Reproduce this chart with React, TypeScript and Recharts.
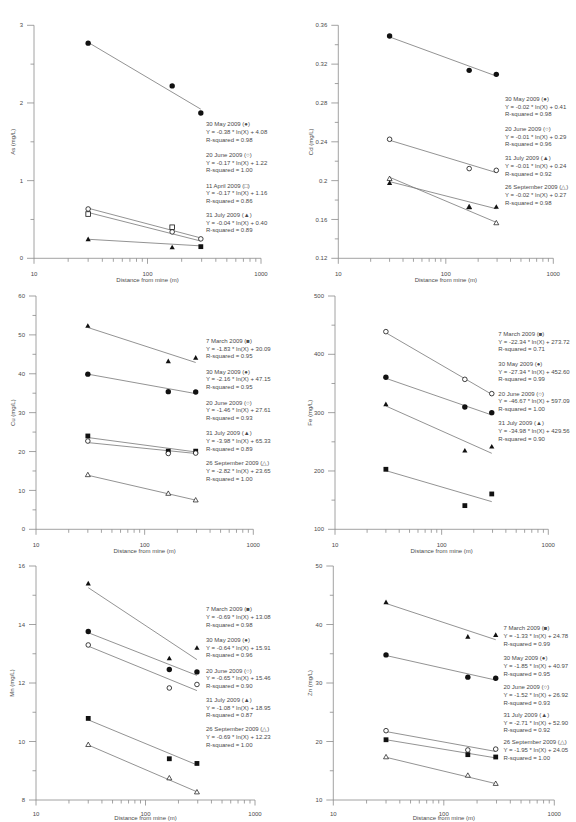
import React from 'react';
import { ComposedChart, Scatter, XAxis, YAxis } from 'recharts';

// ---- shared x values (distance from mine, m) ----
const DISTANCES = [30, 165, 295];
const FIT_RANGE = [30, 295];
const X_TICKS = [10, 20, 30, 40, 50, 60, 70, 80, 90, 100, 200, 300, 400, 500, 600, 700, 800, 900, 1000];
const X_LABELED = [10, 100, 1000];

// ---- As (mg/L) ----
const AS_MAY = [2.77, 2.22, 1.87];
const AS_MAY_FIT = [2.78, 1.92];
const AS_JUNE = [0.635, 0.34, 0.25];
const AS_JUNE_FIT = [0.645, 0.262];
const AS_APRIL = [0.57, 0.4, null];
const AS_APRIL_FIT = [0.59, 0.222];
const AS_JULY = [0.245, 0.14, null];
const AS_JULY_END = [null, null, 0.15];
const AS_JULY_FIT = [0.245, 0.16];
const AS_TICKS = [0, 0.5, 1, 1.5, 2, 2.5, 3];

// ---- Cd (mg/L) ----
const CD_MAY = [0.349, 0.3136, 0.3095];
const CD_MAY_FIT = [0.348, 0.3077];
const CD_JUNE = [0.2426, 0.2124, 0.2106];
const CD_JUNE_FIT = [0.2416, 0.2083];
const CD_SEPT = [0.202, 0.1728, 0.1564];
const CD_SEPT_FIT = [0.2035, 0.157];
const CD_JULY = [0.1975, 0.1728, 0.173];
const CD_JULY_FIT = [0.199, 0.171];
const CD_TICKS = [0.12, 0.14, 0.16, 0.18, 0.2, 0.22, 0.24, 0.26, 0.28, 0.3, 0.32, 0.34, 0.36];

// ---- Cu (mg/L) ----
const CU_JULY = [52.3, 43.2, 44.1];
const CU_JULY_FIT = [51.9, 42.9];
const CU_MAY = [39.9, 35.4, 35.3];
const CU_MAY_FIT = [39.9, 34.9];
const CU_MARCH = [24.0, 20.1, 20.1];
const CU_MARCH_FIT = [23.6, 19.9];
const CU_JUNE = [22.7, 19.5, 19.6];
const CU_JUNE_FIT = [22.3, 19.5];
const CU_SEPT = [14.0, 9.2, 7.5];
const CU_SEPT_FIT = [13.9, 7.5];
const CU_TICKS = [0, 5, 10, 15, 20, 25, 30, 35, 40, 45, 50, 55, 60];

// ---- Fe (mg/L) ----
const FE_JUNE = [438.9, 357.1, 332.6];
const FE_JUNE_FIT = [437, 331.4];
const FE_MAY = [360.6, 309.7, 300];
const FE_MAY_FIT = [358.9, 296];
const FE_JULY = [314.3, 234.9, 241.7];
const FE_JULY_FIT = [311.4, 230.3];
const FE_MARCH = [202.9, 140.6, 160.6];
const FE_MARCH_FIT = [200.6, 147.4];
const FE_TICKS = [100, 150, 200, 250, 300, 350, 400, 450, 500];

// ---- Mn (mg/L) ----
const MN_JULY = [15.4, 12.84, 13.2];
const MN_JULY_FIT = [15.26, 12.8];
const MN_MAY = [13.76, 12.46, 12.38];
const MN_MAY_FIT = [13.72, 12.26];
const MN_JUNE = [13.3, 11.83, 11.95];
const MN_JUNE_FIT = [13.26, 11.74];
const MN_MARCH = [10.79, 9.41, 9.25];
const MN_MARCH_FIT = [10.74, 9.2];
const MN_SEPT = [9.89, 8.75, 8.27];
const MN_SEPT_FIT = [9.88, 8.28];
const MN_TICKS = [8, 9, 10, 11, 12, 13, 14, 15, 16];

// ---- Zn (mg/L) ----
const ZN_JULY = [43.8, 37.9, 38.2];
const ZN_JULY_FIT = [43.6, 37.4];
const ZN_MAY = [34.8, 31.0, 30.8];
const ZN_MAY_FIT = [34.7, 30.5];
const ZN_JUNE = [21.85, 18.55, 18.7];
const ZN_JUNE_FIT = [21.7, 18.3];
const ZN_MARCH = [20.3, 17.75, 17.35];
const ZN_MARCH_FIT = [20.3, 17.2];
const ZN_SEPT = [17.35, 14.2, 12.8];
const ZN_SEPT_FIT = [17.3, 12.8];
const ZN_TICKS = [10, 15, 20, 25, 30, 35, 40, 45, 50];

// ---- regression legends ----
const AS_LEGEND = [
  ['30 May 2009 (●)', 'Y = -0.38 * ln(X) + 4.08', 'R-squared = 0.98'],
  ['20 June 2009 (○)', 'Y = -0.17 * ln(X) + 1.22', 'R-squared = 1.00'],
  ['11 April 2009 (□)', 'Y = -0.17 * ln(X) + 1.16', 'R-squared = 0.86'],
  ['31 July 2009 (▲)', 'Y = -0.04 * ln(X) + 0.40', 'R-squared = 0.89'],
];
const CD_LEGEND = [
  ['30 May 2009 (●)', 'Y = -0.02 * ln(X) + 0.41', 'R-squared = 0.98'],
  ['20 June 2009 (○)', 'Y = -0.01 * ln(X) + 0.29', 'R-squared = 0.96'],
  ['31 July 2009 (▲)', 'Y = -0.01 * ln(X) + 0.24', 'R-squared = 0.92'],
  ['26 September 2009 (△)', 'Y = -0.02 * ln(X) + 0.27', 'R-squared = 0.98'],
];
const CU_LEGEND = [
  ['7 March 2009 (■)', 'Y = -1.83 * ln(X) + 30.09', 'R-squared = 0.95'],
  ['30 May 2009 (●)', 'Y = -2.16 * ln(X) + 47.15', 'R-squared = 0.95'],
  ['20 June 2009 (○)', 'Y = -1.46 * ln(X) + 27.61', 'R-squared = 0.93'],
  ['31 July 2009 (▲)', 'Y = -3.98 * ln(X) + 65.33', 'R-squared = 0.89'],
  ['26 September 2009 (△)', 'Y = -2.82 * ln(X) + 23.65', 'R-squared = 1.00'],
];
const FE_LEGEND = [
  ['7 March 2009 (■)', 'Y = -22.34 * ln(X) + 273.72', 'R-squared = 0.71'],
  ['30 May 2009 (●)', 'Y = -27.34 * ln(X) + 452.60', 'R-squared = 0.99'],
  ['20 June 2009 (○)', 'Y = -46.67 * ln(X) + 597.09', 'R-squared = 1.00'],
  ['31 July 2009 (▲)', 'Y = -34.98 * ln(X) + 429.56', 'R-squared = 0.90'],
];
const MN_LEGEND = [
  ['7 March 2009 (■)', 'Y = -0.69 * ln(X) + 13.08', 'R-squared = 0.98'],
  ['30 May 2009 (●)', 'Y = -0.64 * ln(X) + 15.91', 'R-squared = 0.96'],
  ['20 June 2009 (○)', 'Y = -0.65 * ln(X) + 15.46', 'R-squared = 0.90'],
  ['31 July 2009 (▲)', 'Y = -1.08 * ln(X) + 18.95', 'R-squared = 0.87'],
  ['26 September 2009 (△)', 'Y = -0.69 * ln(X) + 12.23', 'R-squared = 1.00'],
];
const ZN_LEGEND = [
  ['7 March 2009 (■)', 'Y = -1.33 * ln(X) + 24.78', 'R-squared = 0.99'],
  ['30 May 2009 (●)', 'Y = -1.85 * ln(X) + 40.97', 'R-squared = 0.95'],
  ['20 June 2009 (○)', 'Y = -1.52 * ln(X) + 26.92', 'R-squared = 0.93'],
  ['31 July 2009 (▲)', 'Y = -2.71 * ln(X) + 52.90', 'R-squared = 0.92'],
  ['26 September 2009 (△)', 'Y = -1.95 * ln(X) + 24.05', 'R-squared = 1.00'],
];

const X_TITLE = 'Distance from mine (m)';

// ---- styling ----
const FONT = '"Liberation Sans", Arial, Helvetica, sans-serif';
const TEXT = '#4a4a4a';
const AXIS = '#8c8c8c';
const FIT = '#777777';
const INK = '#111111';
const FS = 6;
const LINE_GAP = 7.6;

type Kind = 'dot' | 'ring' | 'box' | 'frame' | 'tri' | 'openTri';

function Marker({ kind, cx, cy }: { kind: Kind; cx: number; cy: number }) {
  if (cx == null || cy == null) return <g />;
  switch (kind) {
    case 'dot':
      return <circle cx={cx} cy={cy} r={2.7} fill={INK} />;
    case 'ring':
      return <circle cx={cx} cy={cy} r={2.3} fill="#fff" stroke={INK} strokeWidth={0.8} />;
    case 'box':
      return <rect x={cx - 2.4} y={cy - 2.4} width={4.8} height={4.8} fill={INK} />;
    case 'frame':
      return <rect x={cx - 2.3} y={cy - 2.3} width={4.6} height={4.6} fill="#fff" stroke={INK} strokeWidth={0.8} />;
    case 'tri':
      return <polygon points={`${cx},${cy - 2.7} ${cx - 2.6},${cy + 1.9} ${cx + 2.6},${cy + 1.9}`} fill={INK} />;
    default:
      return (
        <polygon
          points={`${cx},${cy - 2.6} ${cx - 2.5},${cy + 1.8} ${cx + 2.5},${cy + 1.8}`}
          fill="#fff"
          stroke={INK}
          strokeWidth={0.7}
        />
      );
  }
}

const toPoints = (xs: number[], ys: (number | null)[]) =>
  xs.map((x, i) => ({ x, y: ys[i] })).filter((p) => p.y != null);

type Series = { kind: Kind; values: (number | null)[]; fit?: number[] };

type Frame = {
  left: number;
  top: number;
  width: number;
  height: number;
  axisX: number;
  plotTop: number;
  plotBottom: number;
  plotRight: number;
  yTitleX: number;
};

type PanelDef = {
  id: string;
  yTitle: string;
  yTicks: number[];
  series: Series[];
  legend: string[][];
  legendX: number;
  legendY: number[];
  frame: Frame;
  xTitleGap: number;
  xLabelGap: number;
};

const PANELS: PanelDef[] = [
  {
    id: 'as',
    yTitle: 'As (mg/L)',
    yTicks: AS_TICKS,
    series: [
      { kind: 'dot', values: AS_MAY, fit: AS_MAY_FIT },
      { kind: 'ring', values: AS_JUNE, fit: AS_JUNE_FIT },
      { kind: 'frame', values: AS_APRIL, fit: AS_APRIL_FIT },
      { kind: 'tri', values: AS_JULY, fit: AS_JULY_FIT },
      { kind: 'box', values: AS_JULY_END },
    ],
    legend: AS_LEGEND,
    legendX: 206,
    legendY: [124.3, 155, 185.7, 215],
    frame: { left: 0, top: 0, width: 290, height: 288, axisX: 34, plotTop: 25.3, plotBottom: 258.3, plotRight: 261, yTitleX: 13 },
    xTitleGap: 22,
    xLabelGap: 16,
  },
  {
    id: 'cd',
    yTitle: 'Cd (mg/L)',
    yTicks: CD_TICKS,
    series: [
      { kind: 'dot', values: CD_MAY, fit: CD_MAY_FIT },
      { kind: 'ring', values: CD_JUNE, fit: CD_JUNE_FIT },
      { kind: 'openTri', values: CD_SEPT, fit: CD_SEPT_FIT },
      { kind: 'tri', values: CD_JULY, fit: CD_JULY_FIT },
    ],
    legend: CD_LEGEND,
    legendX: 505,
    legendY: [99, 129, 158.3, 187.3],
    frame: { left: 290, top: 0, width: 286, height: 288, axisX: 338.3, plotTop: 25.3, plotBottom: 258.3, plotRight: 553.3, yTitleX: 311 },
    xTitleGap: 22,
    xLabelGap: 16,
  },
  {
    id: 'cu',
    yTitle: 'Cu (mg/L)',
    yTicks: CU_TICKS,
    series: [
      { kind: 'tri', values: CU_JULY, fit: CU_JULY_FIT },
      { kind: 'dot', values: CU_MAY, fit: CU_MAY_FIT },
      { kind: 'box', values: CU_MARCH, fit: CU_MARCH_FIT },
      { kind: 'ring', values: CU_JUNE, fit: CU_JUNE_FIT },
      { kind: 'openTri', values: CU_SEPT, fit: CU_SEPT_FIT },
    ],
    legend: CU_LEGEND,
    legendX: 206,
    legendY: [341, 371.7, 402.7, 433.3, 463.3],
    frame: { left: 0, top: 288, width: 290, height: 270, axisX: 36, plotTop: 296, plotBottom: 529.3, plotRight: 253.3, yTitleX: 12.7 },
    xTitleGap: 22,
    xLabelGap: 16,
  },
  {
    id: 'fe',
    yTitle: 'Fe (mg/L)',
    yTicks: FE_TICKS,
    series: [
      { kind: 'ring', values: FE_JUNE, fit: FE_JUNE_FIT },
      { kind: 'dot', values: FE_MAY, fit: FE_MAY_FIT },
      { kind: 'tri', values: FE_JULY, fit: FE_JULY_FIT },
      { kind: 'box', values: FE_MARCH, fit: FE_MARCH_FIT },
    ],
    legend: FE_LEGEND,
    legendX: 498.3,
    legendY: [334, 364, 393.7, 423.3],
    frame: { left: 290, top: 288, width: 286, height: 270, axisX: 335, plotTop: 296, plotBottom: 529.3, plotRight: 548.3, yTitleX: 310 },
    xTitleGap: 22,
    xLabelGap: 16,
  },
  {
    id: 'mn',
    yTitle: 'Mn (mg/L)',
    yTicks: MN_TICKS,
    series: [
      { kind: 'tri', values: MN_JULY, fit: MN_JULY_FIT },
      { kind: 'dot', values: MN_MAY, fit: MN_MAY_FIT },
      { kind: 'ring', values: MN_JUNE, fit: MN_JUNE_FIT },
      { kind: 'box', values: MN_MARCH, fit: MN_MARCH_FIT },
      { kind: 'openTri', values: MN_SEPT, fit: MN_SEPT_FIT },
    ],
    legend: MN_LEGEND,
    legendX: 206,
    legendY: [609.3, 640, 670.7, 700, 729.3],
    frame: { left: 0, top: 558, width: 290, height: 264, axisX: 36, plotTop: 566, plotBottom: 800, plotRight: 255, yTitleX: 12 },
    xTitleGap: 18.3,
    xLabelGap: 13.5,
  },
  {
    id: 'zn',
    yTitle: 'Zn (mg/L)',
    yTicks: ZN_TICKS,
    series: [
      { kind: 'tri', values: ZN_JULY, fit: ZN_JULY_FIT },
      { kind: 'dot', values: ZN_MAY, fit: ZN_MAY_FIT },
      { kind: 'ring', values: ZN_JUNE, fit: ZN_JUNE_FIT },
      { kind: 'box', values: ZN_MARCH, fit: ZN_MARCH_FIT },
      { kind: 'openTri', values: ZN_SEPT, fit: ZN_SEPT_FIT },
    ],
    legend: ZN_LEGEND,
    legendX: 503.5,
    legendY: [628.3, 658.3, 687.3, 715, 742.3],
    frame: { left: 290, top: 558, width: 286, height: 264, axisX: 333.3, plotTop: 566, plotBottom: 800, plotRight: 554.3, yTitleX: 310 },
    xTitleGap: 18.3,
    xLabelGap: 13.5,
  },
];

const YTick = (props: any) => {
  const { x, y, payload, index } = props;
  const major = index % 2 === 0;
  return (
    <g>
      <line x1={x} x2={x - (major ? 7 : 3.5)} y1={y} y2={y} stroke={AXIS} strokeWidth={0.8} />
      {major && (
        <text x={x - 11} y={y + 2.1} textAnchor="end" fontSize={FS} fontFamily={FONT} fill={TEXT}>
          {payload.value}
        </text>
      )}
    </g>
  );
};

const makeXTick = (labelGap: number) => (props: any) => {
  const { x, y, payload } = props;
  const major = X_LABELED.includes(payload.value);
  return (
    <g>
      <line x1={x} x2={x} y1={y} y2={y + (major ? 5.5 : 3.5)} stroke={AXIS} strokeWidth={0.8} />
      {major && (
        <text x={x} y={y + labelGap + 2.1} textAnchor="middle" fontSize={FS} fontFamily={FONT} fill={TEXT}>
          {payload.value}
        </text>
      )}
    </g>
  );
};

const noShape = () => <g />;

function Panel({ def }: { def: PanelDef }) {
  const f = def.frame;
  const margin = { top: f.plotTop - f.top, right: f.left + f.width - f.plotRight, bottom: 0, left: 0 };
  const yDomain = [def.yTicks[0], def.yTicks[def.yTicks.length - 1]];
  const XTick = makeXTick(def.xLabelGap);
  return (
    <div style={{ position: 'absolute', left: f.left, top: f.top, width: f.width, height: f.height }}>
      <ComposedChart width={f.width} height={f.height} margin={margin}>
        <XAxis
          type="number"
          dataKey="x"
          scale="log"
          domain={[10, 1000]}
          ticks={X_TICKS}
          interval={0}
          allowDataOverflow
          height={f.top + f.height - f.plotBottom}
          tickSize={0}
          tickMargin={0}
          tickLine={false}
          axisLine={{ stroke: AXIS, strokeWidth: 0.8 }}
          tick={<XTick />}
        />
        <YAxis
          type="number"
          dataKey="y"
          domain={yDomain}
          ticks={def.yTicks}
          interval={0}
          allowDataOverflow
          width={f.axisX - f.left}
          tickSize={0}
          tickMargin={0}
          tickLine={false}
          axisLine={{ stroke: AXIS, strokeWidth: 0.8 }}
          tick={<YTick />}
        />
        {def.series
          .filter((s) => s.fit)
          .map((s, i) => (
            <Scatter
              key={`fit-${i}`}
              data={toPoints(FIT_RANGE, s.fit as number[])}
              line={{ stroke: FIT, strokeWidth: 0.8 }}
              shape={noShape}
              isAnimationActive={false}
              legendType="none"
            />
          ))}
        {def.series.map((s, i) => (
          <Scatter
            key={`pts-${i}`}
            data={toPoints(DISTANCES, s.values)}
            shape={(p: any) => <Marker kind={s.kind} cx={p.cx} cy={p.cy} />}
            isAnimationActive={false}
            legendType="none"
          />
        ))}
      </ComposedChart>
    </div>
  );
}

function Annotations() {
  return (
    <svg width={576} height={822} style={{ position: 'absolute', left: 0, top: 0, pointerEvents: 'none' }}>
      {PANELS.map((def) => {
        const f = def.frame;
        const midY = (f.plotTop + f.plotBottom) / 2;
        const midX = (f.axisX + f.plotRight) / 2;
        return (
          <g key={def.id} fontFamily={FONT} fontSize={FS} fill={TEXT}>
            <text
              x={f.yTitleX}
              y={midY}
              textAnchor="middle"
              dominantBaseline="central"
              transform={`rotate(-90, ${f.yTitleX}, ${midY})`}
            >
              {def.yTitle}
            </text>
            <text x={midX} y={f.plotBottom + def.xTitleGap + 2.1} textAnchor="middle">
              {X_TITLE}
            </text>
            {def.legend.map((block, b) =>
              block.map((line, l) => (
                <text key={`${b}-${l}`} x={def.legendX} y={def.legendY[b] + l * LINE_GAP + 2.1}>
                  {line}
                </text>
              ))
            )}
          </g>
        );
      })}
    </svg>
  );
}

export default function App() {
  return (
    <div
      style={{
        position: 'absolute',
        left: 0,
        top: 0,
        width: 576,
        height: 822,
        background: '#fff',
        overflow: 'hidden',
        fontFamily: FONT,
      }}
    >
      {PANELS.map((def) => (
        <Panel key={def.id} def={def} />
      ))}
      <Annotations />
    </div>
  );
}
